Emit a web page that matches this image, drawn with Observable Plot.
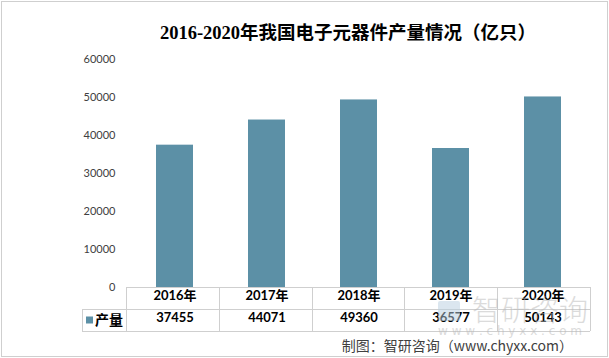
<!DOCTYPE html>
<html><head><meta charset="utf-8">
<script src="https://cdn.jsdelivr.net/npm/d3@7"></script>
<script src="https://cdn.jsdelivr.net/npm/@observablehq/plot@0.6"></script>
<style>
html,body{margin:0;padding:0;background:#fff;}
#chart{width:609px;height:358px;}
</style>
</head><body>
<div id="chart"></div>
<script>
const years = ["2016", "2017", "2018", "2019", "2020"];
const yearLabels = ["2016年", "2017年", "2018年", "2019年", "2020年"];
const output = [37455, 44071, 49360, 36577, 50143];
const yTicks = [0, 10000, 20000, 30000, 40000, 50000, 60000];
const seriesName = "产量";
const titleText = "2016-2020年我国电子元器件产量情况（亿只）";
const sourceText = "制图：智研咨询（www.chyxx.com）";
const watermarkText = "智研咨询";
const watermarkUrl = "w w w . c h y x x . c o m";

const data = years.map((y, i) => ({year: y, label: yearLabels[i], value: output[i]}));

const barColor = "#5c90a6";
const gridColor = "#cfcfcf";
const textColor = "#404040";
const latin = "Lato, 'Noto Sans CJK SC', sans-serif";

const chart = Plot.plot({
  width: 609,
  height: 358,
  marginTop: 59,
  marginBottom: 71,
  marginLeft: 126,
  marginRight: 19,
  style: {fontFamily: latin, fontSize: "11px", color: textColor, background: "#fff", overflow: "visible"},
  x: {domain: years, paddingInner: 0.6, paddingOuter: 0.3, axis: null},
  y: {domain: [0, 60000], axis: null},
  marks: [
    Plot.barY(data, {x: "year", y: "value", fill: barColor}),
    Plot.axisY({ticks: yTicks, tickSize: 0, tickPadding: 11, tickFormat: d => String(d), label: null, fontSize: 11, fill: textColor}),
    Plot.text(data, {x: "year", text: "label", frameAnchor: "bottom", dy: 12, fontWeight: "bold", fontSize: 13, fill: "#000"}),
    Plot.text(data, {x: "year", text: d => String(d.value), frameAnchor: "bottom", dy: 34, fontWeight: "bold", fontSize: 13, fill: "#000"})
  ]
});
document.getElementById("chart").appendChild(chart);

const svg = d3.select(chart);
const xs = chart.scale("x");
const yr = chart.scale("y");
const left0 = Math.min(...xs.range), rightEdge = Math.max(...xs.range);
const step = (rightEdge - left0) / years.length;
const edges = years.map((y, i) => left0 + i * step);
const tableTop = Math.max(...yr.range);
const rowH = 22;
const legendW = 44;

const g = svg.append("g").attr("fill", "none").attr("stroke", gridColor).attr("stroke-width", 1);
const hline = (x1, x2, y) => g.append("path").attr("d", `M${x1},${Math.round(y) + 0.5}H${x2}`);
const vline = (x, y1, y2) => g.append("path").attr("d", `M${Math.round(x) + 0.5},${y1}V${y2}`);
hline(left0, rightEdge, tableTop);
hline(left0 - legendW, rightEdge, tableTop + rowH);
hline(left0 - legendW, rightEdge, tableTop + 2 * rowH);
[...edges, rightEdge].forEach(e => vline(e, tableTop, tableTop + 2 * rowH));
vline(left0 - legendW, tableTop + rowH, tableTop + 2 * rowH);

svg.append("rect").attr("x", left0 - legendW + 4).attr("y", tableTop + rowH + 7.5).attr("width", 7).attr("height", 7).attr("fill", barColor);
svg.append("text").attr("x", left0 - legendW + 13).attr("y", tableTop + rowH + 11).attr("dy", "0.35em").attr("text-anchor", "start")
  .attr("font-family", "'Noto Sans CJK SC', sans-serif").attr("font-weight", "bold").attr("font-size", 14).attr("fill", "#000")
  .text(seriesName);

const wm = svg.append("g").attr("opacity", 0.5).attr("text-anchor", "start");
wm.append("rect").attr("x", rightEdge - 152).attr("y", tableTop + 14).attr("width", 22).attr("height", 20).attr("rx", 2).attr("fill", "#b9cfe0");
wm.append("text").attr("x", rightEdge - 118).attr("y", tableTop + 34)
  .attr("font-family", "'Noto Sans CJK SC', sans-serif").attr("font-size", 29).attr("fill", "#b8b8b8").attr("font-weight", "300")
  .text(watermarkText);
wm.append("text").attr("x", rightEdge - 152).attr("y", tableTop + 48)
  .attr("font-family", "'DejaVu Sans', sans-serif").attr("font-size", 12).attr("fill", "#b8b8b8")
  .text(watermarkUrl);

svg.append("text").attr("x", 348).attr("y", 39).attr("text-anchor", "middle")
  .attr("font-family", "'Liberation Serif', 'Noto Sans CJK SC', serif").attr("font-weight", "bold").attr("font-size", 18.5).attr("fill", "#000")
  .text(titleText);

svg.append("text").attr("x", 573).attr("y", 351).attr("text-anchor", "end")
  .attr("font-family", "'Noto Sans CJK SC', sans-serif").attr("font-size", 14).attr("fill", textColor)
  .text(sourceText);

svg.append("rect").attr("x", 1.5).attr("y", 1.5).attr("width", 606).attr("height", 355).attr("fill", "none").attr("stroke", gridColor);
</script>
</body></html>
